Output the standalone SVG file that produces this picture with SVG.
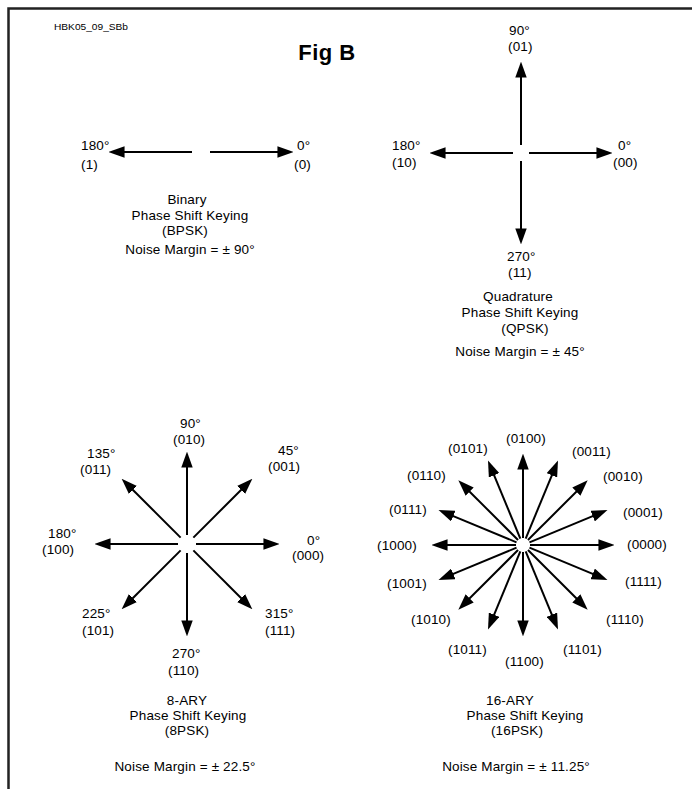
<svg xmlns="http://www.w3.org/2000/svg" width="692" height="789" viewBox="0 0 692 789">
<style>
text{font-family:"Liberation Sans",Arial,sans-serif;font-size:13.5px;fill:#000;letter-spacing:0.15px}
.t{text-anchor:middle}
.arr line{stroke:#000;stroke-width:2;marker-end:url(#ah)}
.frame{fill:none;stroke:#222;stroke-width:2.5}
</style>
<defs>
<marker id="ah" markerUnits="userSpaceOnUse" markerWidth="16" markerHeight="12" refX="4" refY="5" orient="auto" viewBox="0 0 14 10">
<path d="M0,0 L14,5 L0,10 z" fill="#000"/>
</marker>
</defs>
<rect width="692" height="789" fill="#fff"/>
<path class="frame" d="M8.5,789 V8.5 H692"/>
<text x="54" y="30" style="font-size:8.5px;letter-spacing:0" textLength="74" lengthAdjust="spacingAndGlyphs">HBK05_09_SBb</text>
<text x="327" y="60" class="t" style="font-size:22px;font-weight:bold;letter-spacing:0.5px">Fig B</text>

<g id="connectors">
<g class="arr" id="bpsk-arrows" transform="translate(201,152)">
<line x1="9" y1="0" x2="81" y2="0"/>
<line x1="9" y1="0" x2="81" y2="0" transform="rotate(180)"/>
</g>
<g class="arr" id="qpsk-arrows" transform="translate(521,153)">
<line x1="8" y1="0" x2="80" y2="0"/>
<line x1="8" y1="0" x2="80" y2="0" transform="rotate(90)"/>
<line x1="8" y1="0" x2="80" y2="0" transform="rotate(180)"/>
<line x1="8" y1="0" x2="80" y2="0" transform="rotate(270)"/>
</g>
<g class="arr" id="psk8-arrows" transform="translate(187,544)">
<line x1="9" y1="0" x2="81" y2="0"/>
<line x1="9" y1="0" x2="81" y2="0" transform="rotate(45)"/>
<line x1="9" y1="0" x2="81" y2="0" transform="rotate(90)"/>
<line x1="9" y1="0" x2="81" y2="0" transform="rotate(135)"/>
<line x1="9" y1="0" x2="81" y2="0" transform="rotate(180)"/>
<line x1="9" y1="0" x2="81" y2="0" transform="rotate(225)"/>
<line x1="9" y1="0" x2="81" y2="0" transform="rotate(270)"/>
<line x1="9" y1="0" x2="81" y2="0" transform="rotate(315)"/>
</g>
<g class="arr" id="psk16-arrows" transform="translate(523,545)">
<line x1="7" y1="0" x2="80" y2="0"/>
<line x1="7" y1="0" x2="80" y2="0" transform="rotate(22.5)"/>
<line x1="7" y1="0" x2="80" y2="0" transform="rotate(45)"/>
<line x1="7" y1="0" x2="80" y2="0" transform="rotate(67.5)"/>
<line x1="7" y1="0" x2="80" y2="0" transform="rotate(90)"/>
<line x1="7" y1="0" x2="80" y2="0" transform="rotate(112.5)"/>
<line x1="7" y1="0" x2="80" y2="0" transform="rotate(135)"/>
<line x1="7" y1="0" x2="80" y2="0" transform="rotate(157.5)"/>
<line x1="7" y1="0" x2="80" y2="0" transform="rotate(180)"/>
<line x1="7" y1="0" x2="80" y2="0" transform="rotate(202.5)"/>
<line x1="7" y1="0" x2="80" y2="0" transform="rotate(225)"/>
<line x1="7" y1="0" x2="80" y2="0" transform="rotate(247.5)"/>
<line x1="7" y1="0" x2="80" y2="0" transform="rotate(270)"/>
<line x1="7" y1="0" x2="80" y2="0" transform="rotate(292.5)"/>
<line x1="7" y1="0" x2="80" y2="0" transform="rotate(315)"/>
<line x1="7" y1="0" x2="80" y2="0" transform="rotate(337.5)"/>
</g>
</g>

<g id="bpsk">
<text x="81" y="150">180°</text><text x="81" y="169">(1)</text>
<text x="297" y="150">0°</text><text x="294" y="169">(0)</text>
<text x="187" y="204" class="t">Binary</text>
<text x="190" y="220" class="t">Phase Shift Keying</text>
<text x="185" y="235" class="t">(BPSK)</text>
<text x="190" y="254" class="t">Noise Margin = ± 90°</text>
</g>

<g id="qpsk">
<text x="509" y="35">90°</text><text x="508" y="51">(01)</text>
<text x="392" y="150">180°</text><text x="392" y="167">(10)</text>
<text x="618" y="150">0°</text><text x="613" y="167">(00)</text>
<text x="507" y="261">270°</text><text x="508" y="277">(11)</text>
<text x="518" y="301" class="t">Quadrature</text>
<text x="520" y="317" class="t">Phase Shift Keying</text>
<text x="525" y="333" class="t">(QPSK)</text>
<text x="520" y="356" class="t">Noise Margin = ± 45°</text>
</g>

<g id="psk8">
<text x="180" y="428">90°</text><text x="173" y="444">(010)</text>
<text x="278" y="455">45°</text><text x="268" y="471">(001)</text>
<text x="87" y="458">135°</text><text x="80" y="474">(011)</text>
<text x="48" y="538">180°</text><text x="42" y="554">(100)</text>
<text x="307" y="545">0°</text><text x="292" y="560">(000)</text>
<text x="82" y="618">225°</text><text x="82" y="635">(101)</text>
<text x="265" y="618">315°</text><text x="265" y="635">(111)</text>
<text x="172" y="658">270°</text><text x="168" y="675">(110)</text>
<text x="187" y="705" class="t">8-ARY</text>
<text x="188" y="720" class="t">Phase Shift Keying</text>
<text x="187" y="735" class="t">(8PSK)</text>
<text x="185" y="771" class="t">Noise Margin = ± 22.5°</text>
</g>

<g id="psk16">
<text x="506" y="443">(0100)</text>
<text x="448" y="453">(0101)</text>
<text x="572" y="456">(0011)</text>
<text x="407" y="480">(0110)</text>
<text x="603" y="481">(0010)</text>
<text x="389" y="514">(0111)</text>
<text x="623" y="517">(0001)</text>
<text x="377" y="550">(1000)</text>
<text x="627" y="549">(0000)</text>
<text x="387" y="588">(1001)</text>
<text x="625" y="586">(1111)</text>
<text x="411" y="624">(1010)</text>
<text x="606" y="624">(1110)</text>
<text x="448" y="654">(1011)</text>
<text x="505" y="666">(1100)</text>
<text x="563" y="654">(1101)</text>
<text x="510" y="705" class="t">16-ARY</text>
<text x="525" y="720" class="t">Phase Shift Keying</text>
<text x="517" y="735" class="t">(16PSK)</text>
<text x="516" y="771" class="t">Noise Margin = ± 11.25°</text>
</g>
</svg>
